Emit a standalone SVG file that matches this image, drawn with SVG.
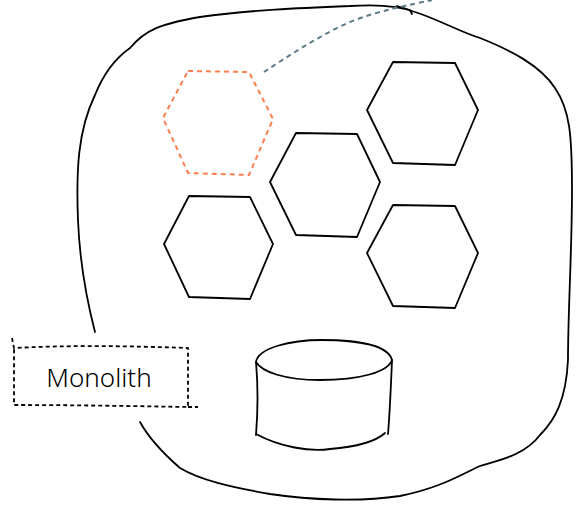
<svg xmlns="http://www.w3.org/2000/svg" width="578" height="506" viewBox="0 0 578 506">
<style>
.s{fill:none;stroke:#000;stroke-width:1.8;stroke-linecap:round;stroke-linejoin:round}
.hex{fill:none;stroke:#000;stroke-width:1.8;stroke-linejoin:round}
.orange{fill:none;stroke:#ff7f50;stroke-width:2;stroke-dasharray:5 4}
.link{fill:none;stroke:#5f7b88;stroke-width:2;stroke-dasharray:5 4}
.box{fill:none;stroke:#000;stroke-width:1.8;stroke-dasharray:4 3}
.lbl{font-family:"Noto Sans","Open Sans",sans-serif;font-size:26px;font-weight:300;fill:#000}
</style>
<rect width="578" height="506" fill="#fff"/>
<g id="monolith-boundary">
<path class="s" d="M95,332 C88,305 80,270 78,220 C76,170 78,130 95,95 C105,70 120,55 130,48 C145,30 160,24 200,17 C250,10 300,8 350,6 C380,4 400,6 415,12 C440,20 460,32 480,38 C510,50 540,65 555,88 C570,110 572,135 572,190 C572,250 568,310 568,360 C566,400 555,420 540,435 C525,455 500,460 480,466 C460,475 440,488 400,496 C360,502 310,500 270,494 C230,487 200,480 180,468 C165,455 150,440 140,422"/>
<path class="s" d="M397,6 L410,10 L412,14"/>
</g>
<g id="connectors">
<path class="link" d="M264,72 C290,55 320,35 350,22 C380,10 410,5 432,0"/>
</g>
<g id="service-highlighted">
<path class="orange" d="M188,71 L249,72 L273,119 L249,175 L188,173 L163,118 Z"/>
</g>
<g id="service-center">
<path class="hex" d="M296,133 L357,134 L380,182 L357,237 L296,235 L270,182 Z"/>
</g>
<g id="service-top-right">
<path class="hex" d="M393,62 L455,63 L478,110 L455,165 L393,163 L367,110 Z"/>
</g>
<g id="service-bottom-left">
<path class="hex" d="M189,196 L250,197 L273,244 L250,299 L189,297 L164,244 Z"/>
</g>
<g id="service-bottom-right">
<path class="hex" d="M393,205 L455,206 L478,253 L455,308 L393,306 L367,253 Z"/>
</g>
<g id="database">
<path class="s" d="M256,362 C258,348 290,340 322,340 C360,340 388,346 392,360 C388,372 360,380 320,380 C285,380 262,372 256,362 Z"/>
<path class="s" d="M256,362 C258,385 258,410 256,435"/>
<path class="s" d="M392,360 C391,385 390,410 388,434"/>
<path class="s" d="M256,434 C280,447 310,452 330,449 C355,447 375,442 385,433"/>
</g>
<g id="label-monolith">
<path class="box" d="M12,338 L14,348 C70,345 130,346 188,348 L188,407 C130,406 70,405 14,405 L14,348"/>
<path class="box" d="M188,407 L198,407"/>
<text class="lbl" x="99" y="387" text-anchor="middle">Monolith</text>
</g>
</svg>
